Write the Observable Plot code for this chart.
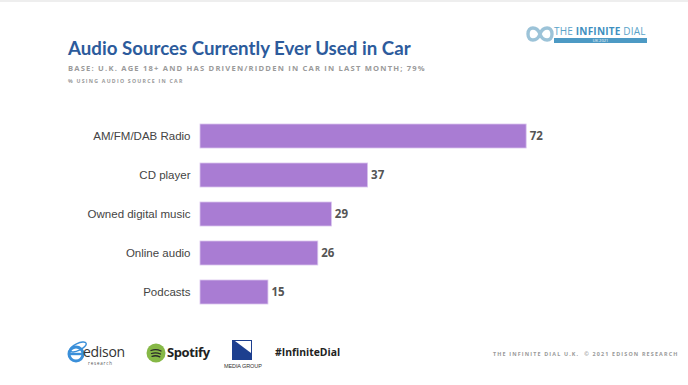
<!DOCTYPE html>
<html>
<head>
<meta charset="utf-8">
<script src="https://cdn.jsdelivr.net/npm/d3@7"></script>
<script src="https://cdn.jsdelivr.net/npm/@observablehq/plot@0.6"></script>
<style>
  html, body { margin: 0; padding: 0; background: #fff; }
  #page { position: relative; width: 688px; height: 385px; overflow: hidden; background: #fff; border-top: 2px solid #eee; box-sizing: border-box; }
  .abs { position: absolute; white-space: nowrap; }
  #title { left: 68px; top: 35px; font-family: "Lato", sans-serif; font-weight: 700; font-size: 18.7px; color: #2c5b9c; letter-spacing: 0px; }
  #sub1 { left: 68px; top: 61px; font-family: "Open Sans", sans-serif; font-weight: 700; font-size: 7.6px; color: #9a9a9a; letter-spacing: 1.2px; }
  #sub2 { left: 68px; top: 75px; font-family: "Open Sans", sans-serif; font-weight: 700; font-size: 5.2px; color: #9a9a9a; letter-spacing: 1.25px; }
  #chart { left: 0; top: 100px; }
  #brand { left: 525px; top: 21px; width: 30px; height: 22px; }
  #brandText { left: 554px; top: 22px; font-family: "Open Sans", sans-serif; font-size: 10px; color: #5aa3c9; letter-spacing: 0.2px; }
  #brandBar { left: 554px; top: 36px; width: 93px; height: 5px; background: #4d9ac4; color: #fff; font-family: "Open Sans", sans-serif; font-size: 4px; text-align: center; line-height: 5px; }
  #footR { left: 493px; top: 348px; font-family: "Open Sans", sans-serif; font-weight: 700; font-size: 5.4px; color: #999; letter-spacing: 1.15px; }
  #hash { left: 275px; top: 343px; font-family: "Open Sans", sans-serif; font-weight: 700; font-size: 10.4px; color: #222; }
  #spot { left: 167px; top: 341px; font-family: "Open Sans", sans-serif; font-weight: 700; font-size: 13px; color: #222; letter-spacing: -0.4px; }
  #spotIcon { left: 146px; top: 341px; width: 20px; height: 20px; }
  #edison { left: 83px; top: 340px; font-family: "Open Sans", sans-serif; font-size: 14px; color: #333; letter-spacing: -0.3px; }
  #edisonR { left: 88px; top: 358px; font-family: "Open Sans", sans-serif; font-size: 4.5px; color: #555; letter-spacing: 0.8px; }
  #edIcon { left: 66px; top: 337px; width: 22px; height: 26px; }
  #bauer { left: 232px; top: 338px; width: 20px; height: 20px; }
  #bauerT { left: 224px; top: 361px; font-family: "Liberation Sans", sans-serif; font-size: 5.5px; color: #333; letter-spacing: -0.1px; }
</style>
</head>
<body>
<div id="page">
  <div class="abs" id="title">Audio Sources Currently Ever Used in Car</div>
  <div class="abs" id="sub1">BASE: U.K. AGE 18+ AND HAS DRIVEN/RIDDEN IN CAR IN LAST MONTH; 79%</div>
  <div class="abs" id="sub2">% USING AUDIO SOURCE IN CAR</div>
  <svg class="abs" id="brand" viewBox="0 0 30 22">
    <path d="M3 11 C3 3, 12 3, 15 11 C18 19, 27 19, 27 11 C27 3, 18 3, 15 11 C12 19, 3 19, 3 11 Z" fill="none" stroke="#9cc3d8" stroke-width="3.4"/>
  </svg>
  <div class="abs" id="brandText">THE <b style="color:#3f8fbf">INFINITE</b> DIAL</div>
  <div class="abs" id="brandBar">UK 2021</div>
  <div class="abs" id="chart"></div>
  <svg class="abs" id="edIcon" viewBox="0 0 22 26">
    <circle cx="10" cy="15" r="7" fill="none" stroke="#3a8fd9" stroke-width="3"/>
    <path d="M3 15 H17" stroke="#3a8fd9" stroke-width="2.4"/>
    <ellipse cx="12" cy="8" rx="9" ry="3.5" fill="none" stroke="#3a8fd9" stroke-width="1.4" transform="rotate(-25 12 8)"/>
  </svg>
  <div class="abs" id="edison">edison</div>
  <div class="abs" id="edisonR">research</div>
  <svg class="abs" id="spotIcon" viewBox="0 0 20 20">
    <circle cx="10" cy="10" r="9.5" fill="#86b846"/>
    <path d="M5 7.5 Q10 5.5 15 8 M5.5 10.5 Q10 9 14.5 11 M6 13.3 Q10 12 13.8 13.8" fill="none" stroke="#2a2a2a" stroke-width="1.3" stroke-linecap="round"/>
  </svg>
  <div class="abs" id="spot">Spotify</div>
  <svg class="abs" id="bauer" viewBox="0 0 20 20">
    <rect width="20" height="20" fill="#1d3f8f"/>
    <path d="M3 1 L19 1 L19 13 Z" fill="#fff"/>
    <rect x="2" y="14" width="16" height="3" fill="#1d3f8f"/>
  </svg>
  <div class="abs" id="bauerT">MEDIA GROUP</div>
  <div class="abs" id="hash">#InfiniteDial</div>
  <div class="abs" id="footR">THE INFINITE DIAL U.K.&nbsp; © 2021 EDISON RESEARCH</div>
</div>
<script>
const categories = ["AM/FM/DAB Radio", "CD player", "Owned digital music", "Online audio", "Podcasts"];
const values = [72, 37, 29, 26, 15];
const data = categories.map((c, i) => ({source: c, value: values[i]}));

const chart = Plot.plot({
  width: 688,
  height: 230,
  margin: 0,
  style: {background: "transparent", overflow: "visible"},
  x: {domain: [0, 100], range: [200, 653], axis: null},
  y: {domain: categories, range: [6, 218], padding: 0.39, label: null},
  marks: [
    Plot.barX(data, {x: "value", y: "source", fill: "#a97cd3", stroke: "#d9c4ee", strokeWidth: 0.8}),
    Plot.text(data, {x: "value", y: "source", text: d => String(d.value), textAnchor: "start", dx: 3,
      fill: "#555", fontWeight: 700, fontSize: 11.5, fontFamily: "Open Sans, sans-serif"}),
    Plot.axisY({tickSize: 0, tickPadding: 10, fontSize: 11.5, fontFamily: "Liberation Sans, Arial, sans-serif", color: "#444", label: null, anchor: "left", x: 0, textAnchor: "end"})
  ]
});
document.getElementById("chart").appendChild(chart);
</script>
</body>
</html>
